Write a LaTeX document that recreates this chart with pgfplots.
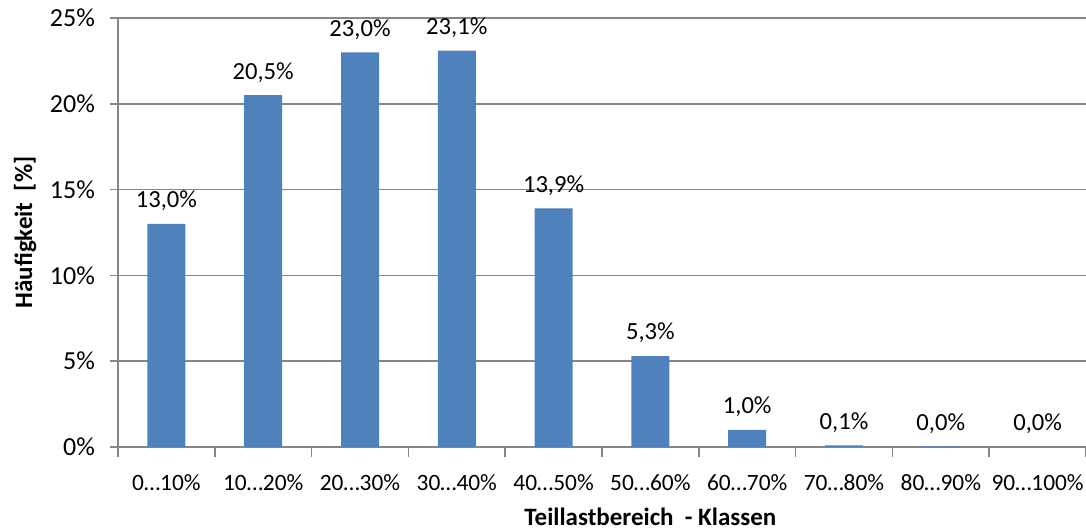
\documentclass[border=0pt]{standalone}
\usepackage{pgfplots}
\pgfplotsset{compat=1.18}
\usepackage{fontspec}
\setmainfont{Carlito}
\usetikzlibrary{calc}
\definecolor{barblue}{HTML}{4F81BD}
\definecolor{axgray}{HTML}{868686}
\begin{document}
\begin{tikzpicture}
\begin{axis}[
  scale only axis,
  width=484pt, height=214.5pt,
  ybar, bar width=19pt,
  xmin=-0.5, xmax=9.5,
  ymin=0, ymax=25,
  xtick={0,1,2,3,4,5,6,7,8,9},
  xticklabels={0…10\%,10…20\%,20…30\%,30…40\%,40…50\%,50…60\%,60…70\%,70…80\%,80…90\%,90…100\%},
  major x tick style={draw=none},
  minor xtick={-0.5,0.5,...,9.5},
  minor tick length=5pt,
  ytick={0,5,...,25},
  yticklabel={\pgfmathprintnumber{\tick}\%},
  major tick length=4pt,
  tick align=outside,
  axis x line*=bottom, axis y line*=left,
  axis line style={draw=axgray, line width=0.8pt},
  tick style={axgray, line width=0.8pt},
  ymajorgrids=true,
  grid style={axgray, line width=0.8pt},
  /pgf/number format/assume math mode=true,
  xticklabel style={font=\fontsize{11.7}{13}\selectfont, yshift=-6pt},
  yticklabel style={font=\fontsize{13}{14}\selectfont, xshift=-4pt},
  xlabel={\textbf{Teillastbereich\ \ - Klassen}},
  ylabel={\textbf{Häufigkeit\ \ [\%]}},
  label style={font=\fontsize{12.5}{13}\selectfont},
  xlabel style={at={(rel axis cs:0.55,0)}, anchor=north, yshift=-27pt},
  ylabel style={at={(rel axis cs:0,0.5)}, anchor=center, yshift=46.5pt},
  nodes near coords={\pgfmathprintnumber[fixed,fixed zerofill,precision=1,use comma]{\pgfplotspointmeta}\%},
  nodes near coords style={font=\fontsize{12.3}{13}\selectfont, text=black, yshift=3pt},
]
\addplot[fill=barblue, draw=none] coordinates {
  (0,13.0) (1,20.5) (2,23.0) (3,23.1) (4,13.9) (5,5.3) (6,1.0) (7,0.1) (8,0.04) (9,0.0)
};
\end{axis}
\pgfresetboundingbox
\path ($(current axis.south west)+(-59pt,-41pt)$) rectangle ($(current axis.north east)+(0pt,9pt)$);
\end{tikzpicture}
\end{document}
